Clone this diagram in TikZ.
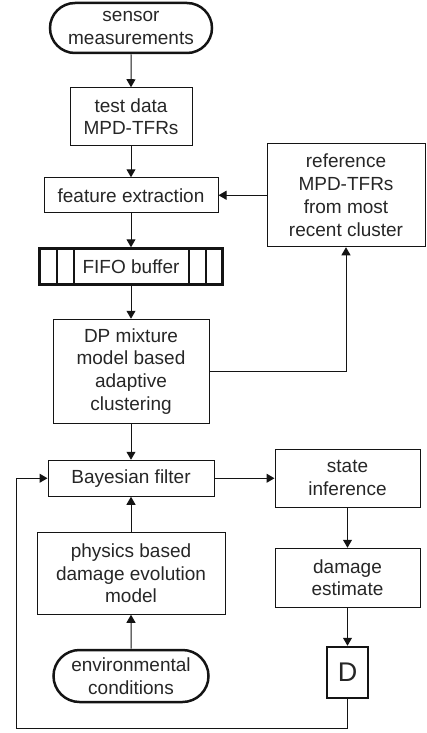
\documentclass[tikz,border=0pt]{standalone}
\usepackage{fontspec}
\setmainfont{Liberation Sans}
\usetikzlibrary{shapes.misc, arrows.meta, positioning}
\definecolor{ink}{HTML}{141414}
\definecolor{txt}{HTML}{262626}
\tikzset{
  box/.style={rectangle, draw=ink, line width=1pt, text=txt, align=center, inner sep=2pt,
              font=\fontsize{19}{22.7}\selectfont},
  term/.style={box, rounded rectangle, line width=2.5pt},
  fifo/.style={box, line width=2.5pt, minimum width=183pt, minimum height=36pt,
               path picture={
                 \foreach \dx in {17,34} {
                   \draw[line width=2pt, ink] ([xshift=\dx pt]path picture bounding box.north west)
                     -- ([xshift=\dx pt]path picture bounding box.south west);
                   \draw[line width=2pt, ink] ([xshift=-\dx pt]path picture bounding box.north east)
                     -- ([xshift=-\dx pt]path picture bounding box.south east);
                 }}},
  flow/.style={-{Triangle[length=8pt, width=9pt]}, draw=ink, line width=1pt}
}
\begin{document}
\begin{tikzpicture}[x=1pt, y=1pt, node distance=33pt and 48pt]
  \useasboundingbox (0,0) rectangle (426,-733);
  % main column
  \node[term, minimum width=166pt, minimum height=50pt] (sensor) at (131,-28) {sensor\\measurements};
  \node[box, minimum width=122pt, minimum height=58pt, below=33pt of sensor] (testdata) {test data\\MPD-TFRs};
  \node[box, minimum width=174pt, minimum height=35pt, below=31pt of testdata] (feature) {feature extraction};
  \node[fifo, below=34pt of feature] (buffer) {FIFO buffer};
  \node[box, minimum width=156pt, minimum height=104pt, below=33pt of buffer] (dpmix) {DP mixture\\model based\\adaptive\\clustering};
  \node[box, minimum width=166pt, minimum height=36pt, below=36pt of dpmix] (bayes) {Bayesian filter};
  \node[box, minimum width=188pt, minimum height=82pt, below=35pt of bayes] (physics) {physics based\\damage evolution\\model};
  \node[term, minimum width=159pt, minimum height=52pt, below=34pt of physics] (environ) {environmental\\conditions};
  % right column
  \node[box, minimum width=158pt, minimum height=103pt, right=48pt of feature] (refclust) {reference\\MPD-TFRs\\from most\\recent cluster};
  \node[box, minimum width=145pt, minimum height=58pt, right=60pt of bayes] (state) {state\\inference};
  \node[box, minimum width=145pt, minimum height=59pt, below=40pt of state] (damage) {damage\\estimate};
  \node[box, line width=2.5pt, minimum width=41pt, minimum height=51pt, below=38pt of damage,
        font=\fontsize{27}{30}\selectfont] (dbox) {D};
  \coordinate (fback) at (16,-728);

  \draw[flow] (sensor) -- (testdata);
  \draw[flow] (testdata) -- (feature);
  \draw[flow] (feature) -- (buffer);
  \draw[flow] (buffer) -- (dpmix);
  \draw[flow] (dpmix) -- (bayes);
  \draw[flow] (refclust) -- (feature);
  \draw[flow] (dpmix.east) -| (refclust.south);
  \draw[flow] (environ) -- (physics);
  \draw[flow] (physics) -- (bayes);
  \draw[flow] (bayes) -- (state);
  \draw[flow] (state) -- (damage);
  \draw[flow] (damage) -- (dbox);
  \draw[flow] (dbox.south) |- (fback) |- (bayes.west);
\end{tikzpicture}
\end{document}
